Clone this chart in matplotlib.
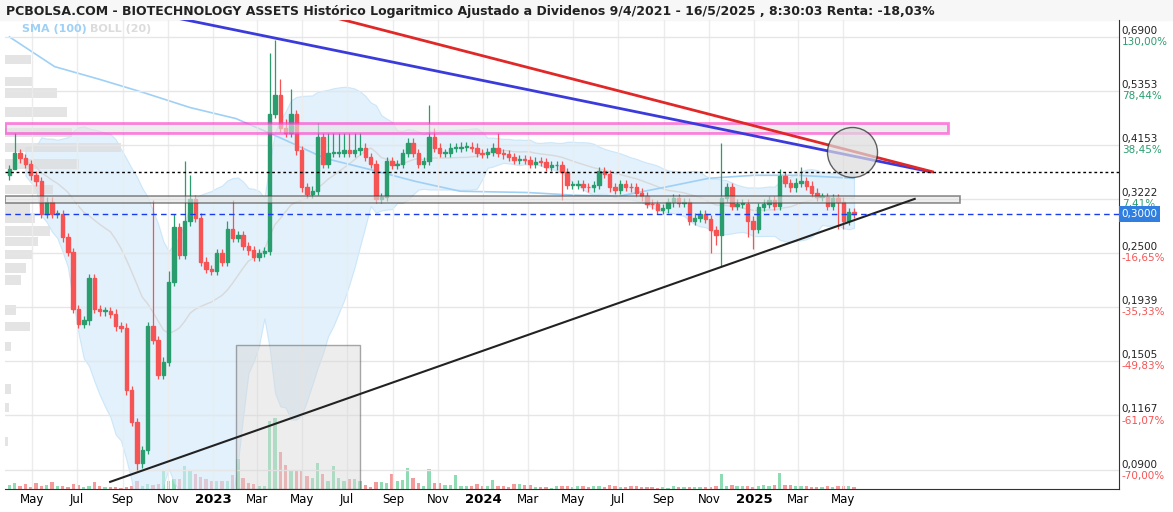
import numpy as np
import pandas as pd
import matplotlib
matplotlib.use('Agg')
import matplotlib.pyplot as plt
import matplotlib.dates as mdates
import matplotlib.transforms as mtransforms
from matplotlib.patches import Rectangle

# cierres semanales (aprox.)
closes = [0.37, 0.40, 0.39, 0.38, 0.36, 0.35, 0.30, 0.318, 0.30, 0.30, 0.269, 0.251, 0.192, 0.179,
          0.182, 0.222, 0.192, 0.19, 0.19, 0.188, 0.177, 0.176, 0.131, 0.113, 0.093, 0.099, 0.177, 0.166, 0.141,
          0.150, 0.218, 0.282, 0.248, 0.290, 0.322, 0.295, 0.240, 0.232, 0.230, 0.25, 0.24, 0.28, 0.268, 0.272,
          0.258, 0.253, 0.245, 0.25, 0.252, 0.48, 0.525, 0.45, 0.44, 0.48, 0.405, 0.34, 0.33, 0.335, 0.43, 0.38,
          0.40, 0.40, 0.40, 0.405, 0.40, 0.405, 0.41, 0.392, 0.38, 0.322, 0.325, 0.385, 0.378, 0.38, 0.40, 0.42,
          0.40, 0.38, 0.385,
          0.432, 0.41, 0.40, 0.40, 0.41, 0.41, 0.412, 0.412, 0.41, 0.40, 0.398, 0.402, 0.41, 0.40, 0.397, 0.392,
          0.387, 0.388, 0.387, 0.38, 0.384, 0.383, 0.375, 0.377, 0.377, 0.365, 0.344, 0.344, 0.345, 0.341, 0.34,
          0.344, 0.367, 0.362, 0.34, 0.336, 0.345, 0.341, 0.34, 0.332, 0.326, 0.315, 0.314, 0.306, 0.308, 0.317,
          0.323, 0.316, 0.317, 0.291, 0.295, 0.30, 0.293, 0.278, 0.272, 0.324, 0.34, 0.312, 0.315, 0.315, 0.291,
          0.28, 0.31, 0.315, 0.32, 0.312, 0.358, 0.347, 0.34, 0.348, 0.35, 0.343, 0.332, 0.325, 0.325, 0.312,
          0.324, 0.318, 0.291, 0.303, 0.30]
first_open = 0.36
high_overrides = {1: 0.44, 27: 0.32, 30: 0.23, 31: 0.30, 33: 0.385, 34: 0.36, 41: 0.29, 42: 0.32, 49: 0.64,
                  50: 0.68, 51: 0.565, 52: 0.47, 53: 0.54, 58: 0.46, 59: 0.44, 60: 0.44, 61: 0.44, 62: 0.44,
                  63: 0.44, 64: 0.44, 65: 0.44, 66: 0.44, 79: 0.50, 80: 0.45, 92: 0.44, 134: 0.42, 145: 0.37,
                  149: 0.375}
low_overrides = {1: 0.37, 24: 0.09, 104: 0.32, 132: 0.25, 133: 0.26, 134: 0.235, 139: 0.27, 140: 0.255,
                 156: 0.28, 157: 0.28}
volumes = [4, 6, 3, 5, 2, 6, 3, 4, 7, 3, 3, 2, 5, 4, 2, 3, 7, 3, 2, 2, 2, 1, 2, 3, 8, 3, 5, 4,
           5, 18, 8, 10, 10, 23, 18, 15, 12, 10, 8, 8, 8, 8, 14, 30, 11, 6, 5, 3, 3, 68, 71, 37, 24, 18, 18,
           18, 13, 11, 26, 15, 8, 23, 11, 8, 10, 10, 8, 4, 2, 7, 7, 6, 15, 8, 9, 21, 11, 6, 3,
           20, 6, 6, 4, 4, 14, 3, 3, 3, 5, 3, 3, 9, 3, 3, 2, 5, 5, 4, 4, 2, 2, 2, 1, 3, 3, 3, 2, 3, 3,
           2, 3, 3, 2, 4, 3, 2, 2, 3, 3, 2, 2, 2, 1, 2, 1, 3, 2, 2, 2, 2, 2, 2, 2, 3, 15, 3, 4, 3, 3,
           3, 2, 3, 4, 3, 4, 16, 4, 4, 3, 3, 3, 2, 2, 2, 3, 2, 3, 3, 3, 2]
sma_dates = ['2022-04-01', '2022-06-01', '2022-08-01', '2022-10-01', '2022-12-01', '2023-02-01', '2023-04-01',
             '2023-06-01', '2023-08-01', '2023-10-01', '2023-12-01', '2024-03-01', '2024-05-01', '2024-07-01',
             '2024-09-01', '2024-11-01', '2025-01-01', '2025-03-01', '2025-05-16']
sma_values = [0.69, 0.60, 0.565, 0.53, 0.495, 0.47, 0.43, 0.39, 0.37, 0.35, 0.334, 0.332, 0.328, 0.326,
              0.34, 0.355, 0.36, 0.36, 0.355]
vp_prices = [0.62, 0.56, 0.53, 0.485, 0.44, 0.41, 0.38, 0.337, 0.309, 0.295, 0.277, 0.264, 0.248, 0.233, 0.220,
             0.191, 0.177, 0.161, 0.132, 0.121, 0.103]
vp_widths = [0.023, 0.025, 0.047, 0.056, 0.06, 0.104, 0.066, 0.043, 0.022, 0.027, 0.04, 0.03, 0.024, 0.019,
             0.014, 0.01, 0.022, 0.005, 0.005, 0.004, 0.003]
price_ticks = [0.6900, 0.5353, 0.4153, 0.3222, 0.2500, 0.1939, 0.1505, 0.1167, 0.0900]
pct_labels = ['130,00%', '78,44%', '38,45%', '7,41%', '-16,65%', '-35,33%', '-49,83%', '-61,07%', '-70,00%']
last_price = 0.3000

GREEN = '#2a9d6f'
RED = '#f65454'

n = len(closes)
dates = pd.date_range('2022-04-01', '2025-05-16', periods=n)
opens = [first_open] + closes[:-1]
highs, lows = [], []
for i in range(n):
    hi = max(opens[i], closes[i]) * 1.02
    lo = min(opens[i], closes[i]) * 0.98
    highs.append(high_overrides.get(i, hi))
    lows.append(low_overrides.get(i, lo))

fig = plt.figure(figsize=(11.73, 5.12), dpi=100)
ax = fig.add_axes([5 / 1173, 23 / 512, 1114 / 1173, 469 / 512])
ax.set_yscale('log')
ax.set_ylim(0.0824, 0.747)
ax.set_xlim(pd.Timestamp('2022-03-26'), pd.Timestamp('2026-05-09'))

# bandas de bollinger
s = pd.Series(closes, index=dates)
mid = s.rolling(20, min_periods=4).mean()
sd = s.rolling(20, min_periods=4).std()
ax.fill_between(dates, mid - 2 * sd, mid + 2 * sd, color='#cfe8fa', alpha=0.6, lw=0.8,
                edgecolor='#b5dcf7', zorder=1)
ax.plot(dates, mid, color='#d9d9d9', lw=1, zorder=1.5)
ax.plot(pd.to_datetime(sma_dates), sma_values, color='#9fd0f5', lw=1.2, zorder=1.5)

# perfil de volumen
trans = mtransforms.blended_transform_factory(ax.transAxes, ax.transData)
ax.barh(vp_prices, vp_widths, height=[p * 0.045 for p in vp_prices], left=0, transform=trans,
        color='#dedede', alpha=0.8, zorder=1)

# volumen
axv = ax.twinx()
axv.set_ylim(0, 469)
axv.set_xlim(ax.get_xlim())
vcol = ['#8fdcb4' if c >= o else '#f49a9a' for o, c in zip(opens, closes)]
axv.bar(dates, volumes, width=4.5, color=vcol, zorder=1)
axv.set_yticks([])
for sp in axv.spines.values():
    sp.set_visible(False)

# velas
for d, o, h, l, c in zip(dates, opens, highs, lows, closes):
    col = GREEN if c >= o else RED
    ax.vlines(d, l, h, color=col, lw=0.9, zorder=3)
    lo_b, hi_b = min(o, c), max(o, c)
    if hi_b / lo_b < 1.004:
        hi_b = lo_b * 1.004
    ax.add_patch(Rectangle((mdates.date2num(d) - 2.3, lo_b), 4.6, hi_b - lo_b, color=col, zorder=4))
ax.set_zorder(axv.get_zorder() + 1)
ax.patch.set_visible(False)

T = pd.Timestamp
# rectangulos y lineas dibujadas
ax.add_patch(Rectangle((mdates.date2num(T('2022-03-26')), 0.44), mdates.date2num(T('2025-09-20')) -
                       mdates.date2num(T('2022-03-26')), 0.021, facecolor='#e4e4e4', alpha=0.6,
                       edgecolor='#ff33cc', lw=2, zorder=5))
ax.add_patch(Rectangle((mdates.date2num(T('2022-03-26')), 0.316), mdates.date2num(T('2025-10-06')) -
                       mdates.date2num(T('2022-03-26')), 0.011, facecolor='#e4e4e4', alpha=0.6,
                       edgecolor='#444444', lw=1.2, zorder=5))
ax.add_patch(Rectangle((mdates.date2num(T('2023-02-01')), 0.0824), mdates.date2num(T('2023-07-19')) -
                       mdates.date2num(T('2023-02-01')), 0.162 - 0.0824, facecolor='#d8d8d8', alpha=0.45,
                       edgecolor='#444444', lw=1, zorder=5))
ax.plot([T('2022-11-11'), T('2025-08-27')], [0.755, 0.366], color='#3b3bdc', lw=2, zorder=6)
ax.plot([T('2023-06-15'), T('2025-08-30')], [0.755, 0.366], color='#e02828', lw=2, zorder=6)
ax.plot([T('2022-08-15'), T('2025-08-06')], [0.0852, 0.3222], color='#222222', lw=1.5, zorder=6)
ax.plot([T('2025-05-13')], [0.402], marker='o', ms=36, mfc='#dcdcdc', mec='#222222', alpha=0.7, zorder=6)
ax.axhline(0.366, color='black', lw=1, ls=(0, (2, 2)), zorder=6)
ax.axhline(last_price, color='#1a3cf0', lw=1, ls=(0, (4, 3)), zorder=6)

# ejes
ax.set_yticks(price_ticks)
ax.set_yticks([], minor=True)
ax.set_yticklabels([])
ax.yaxis.tick_right()
ax.tick_params(axis='y', length=0)
ax.grid(axis='y', color='#e6e6e6', lw=1, zorder=0)
for p, lab in zip(price_ticks, pct_labels):
    ax.annotate(('%.4f' % p).replace('.', ','), (1, p), xycoords=trans, xytext=(2, 4),
                textcoords='offset points', fontsize=7.5, va='center', color='#222222')
    ax.annotate(lab, (1, p), xycoords=trans, xytext=(2, -4), textcoords='offset points', fontsize=7.5,
                va='center', color=GREEN if not lab.startswith('-') else RED)
ax.annotate(('%.4f' % last_price).replace('.', ','), (1, last_price), xycoords=trans, xytext=(2, 0),
            textcoords='offset points', fontsize=7.5, va='center', color='white',
            bbox=dict(boxstyle='square,pad=0.25', fc='#2f7ee0', ec='none'), zorder=10)

tick_dates = pd.date_range('2022-05-01', '2025-05-01', freq='2MS')
ax.set_xticks(tick_dates)
labels = [str(d.year) if d.month == 1 else d.strftime('%b') for d in tick_dates]
ax.set_xticklabels(labels, fontsize=8.5)
for t, d in zip(ax.get_xticklabels(), tick_dates):
    if d.month == 1:
        t.set_fontweight('bold')
        t.set_fontsize(9.5)
ax.tick_params(axis='x', length=0, pad=3)
ax.grid(axis='x', color='#ececec', lw=1, zorder=0)
for name, sp in ax.spines.items():
    sp.set_visible(name in ('right', 'bottom'))
    sp.set_color('#333333')

fig.patches.append(Rectangle((0, 492 / 512), 1, 20 / 512, transform=fig.transFigure, color='#f7f7f7', zorder=0))
fig.text(6 / 1173, 1 - 11 / 512, 'PCBOLSA.COM - BIOTECHNOLOGY ASSETS Histórico Logaritmico Ajustado a Dividenos '
         '9/4/2021 - 16/5/2025 , 8:30:03 Renta: -18,03%', fontsize=9, fontweight='bold', va='center',
         color='#222222')
fig.text(22 / 1173, 1 - 29 / 512, 'SMA (100)', fontsize=8, fontweight='bold', color='#9fd0f5', va='center')
fig.text(90 / 1173, 1 - 29 / 512, 'BOLL (20)', fontsize=8, fontweight='bold', color='#dcdcdc', va='center')

fig.savefig('out.png', dpi=100)
